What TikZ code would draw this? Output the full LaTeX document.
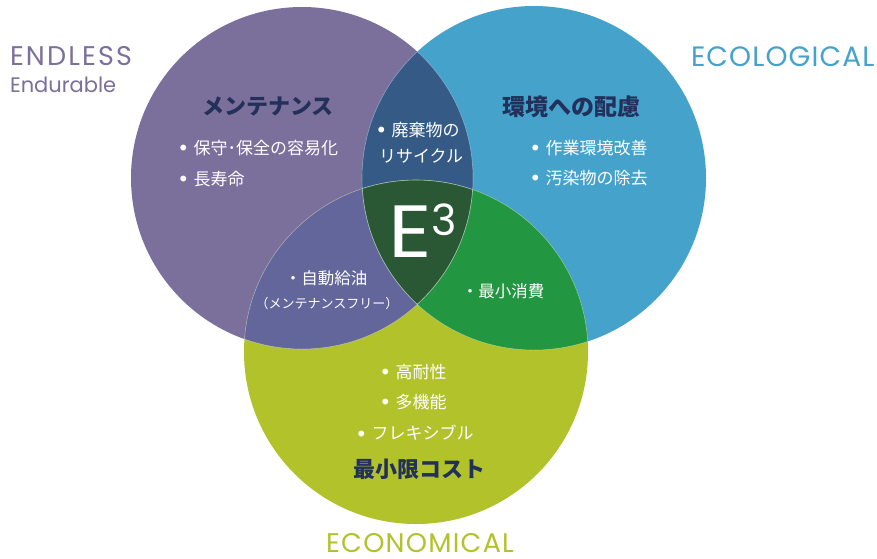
\documentclass[tikz,border=0pt]{standalone}
\usepackage{fontspec}
\setmainfont{Poppins}
\newfontfamily\jp{Noto Sans CJK JP}
\definecolor{cP}{HTML}{7B6F9C}
\definecolor{cB}{HTML}{44A2CB}
\definecolor{cG}{HTML}{B2C22A}
\definecolor{cPB}{HTML}{355A86}
\definecolor{cPG}{HTML}{62669A}
\definecolor{cBG}{HTML}{229641}
\definecolor{cPBG}{HTML}{2A5834}
\definecolor{navy}{HTML}{22305A}
\newcommand\bul{\raisebox{3.6pt}{\fontsize{6.5}{7}\selectfont ●}\hspace{7pt}}
\tikzset{
  lbl/.style={inner sep=0pt, outer sep=0pt},
  head/.style={lbl, text=navy, font=\jp\bfseries\fontsize{22}{25}\selectfont},
  item/.style={lbl, text=white, font=\jp\fontsize{17}{20}\selectfont},
  small/.style={lbl, text=white, font=\jp\fontsize{13}{15}\selectfont},
  seam/.style={draw=white, draw opacity=0.35, line width=0.6pt}
}
\begin{document}
\begin{tikzpicture}[x=1pt,y=-1pt]
\useasboundingbox (0,0) rectangle (877,558);
\coordinate (P) at (302,178);
\coordinate (B) at (534,178);
\coordinate (G) at (416,352);
% base circles
\fill[cP] (P) circle[radius=171pt];
\fill[cB] (B) circle[radius=172pt];
\fill[cG] (G) circle[radius=172pt];
% pairwise overlaps
\begin{scope}
  \clip (P) circle[radius=171pt];
  \fill[cPB] (B) circle[radius=172pt];
\end{scope}
\begin{scope}
  \clip (P) circle[radius=171pt];
  \fill[cPG] (G) circle[radius=172pt];
\end{scope}
\begin{scope}
  \clip (B) circle[radius=172pt];
  \fill[cBG] (G) circle[radius=172pt];
\end{scope}
\begin{scope}
  \clip (P) circle[radius=171pt];
  \clip (B) circle[radius=172pt];
  \fill[cPBG] (G) circle[radius=172pt];
\end{scope}
% seams inside overlaps
\begin{scope}
  \clip (P) circle[radius=171pt];
  \draw[seam] (B) circle[radius=172pt];
  \draw[seam] (G) circle[radius=172pt];
\end{scope}
\begin{scope}
  \clip (B) circle[radius=172pt];
  \draw[seam] (P) circle[radius=171pt];
  \draw[seam] (G) circle[radius=172pt];
\end{scope}
\begin{scope}
  \clip (G) circle[radius=172pt];
  \draw[seam] (P) circle[radius=171pt];
  \draw[seam] (B) circle[radius=172pt];
\end{scope}

% outer labels
\node[lbl, text=cP, anchor=west, font=\fontsize{27}{30}\selectfont\addfontfeature{LetterSpace=8}] (endless) at (10,56.5) {ENDLESS};
\node[lbl, text=cP, anchor=west, font=\fontsize{21}{24}\selectfont] (endurable) at (10,84.5) {Endurable};
\node[lbl, text=cB, anchor=west, font=\fontsize{28}{30}\selectfont\addfontfeature{LetterSpace=4}] (ecological) at (691,57) {ECOLOGICAL};
\node[lbl, text=cG, anchor=north, font=\fontsize{27}{30}\selectfont\addfontfeature{LetterSpace=4.5}] (economical) at (420,533) {ECONOMICAL};

% E3
\node[lbl, text=white, anchor=south west, font=\fontsize{74}{80}\selectfont] (e) at (388,257) {\scalebox{1.15}[1]{E}};
\node[lbl, text=white, anchor=north west, font=\fontsize{43}{46}\selectfont] (three) at (431,204) {3};

% purple
\node[head] (h1) at (268,106) {メンテナンス};
\node[item, anchor=west] (p1) at (180,148) {\bul 保守･保全の容易化};
\node[item, anchor=west] (p2) at (180,179) {\bul 長寿命};
% blue
\node[head, font=\jp\bfseries\fontsize{23}{26}\selectfont] (h2) at (571,107) {環境への配慮};
\node[item, anchor=west] (b1) at (532,148) {\bul 作業環境改善};
\node[item, anchor=west] (b2) at (532,178) {\bul 汚染物の除去};
% purple-blue
\node[item, anchor=west] (pb1) at (378,130) {\bul 廃棄物の};
\node[item, anchor=west] (pb2) at (379,156) {リサイクル};
% purple-green
\node[item, font=\jp\fontsize{16.5}{20}\selectfont] (pg1) at (326,278) {・自動給油};
\node[small] (pg2) at (327,304) {（メンテナンスフリー）};
% blue-green
\node[item, font=\jp\fontsize{16.5}{20}\selectfont] (bg1) at (503,291) {・最小消費};
% green
\node[item, anchor=west] (g1) at (382,372) {\bul 高耐性};
\node[item, anchor=west] (g2) at (382,402) {\bul 多機能};
\node[item, anchor=west] (g3) at (358,433) {\bul フレキシブル};
\node[head] (h3) at (419,469) {最小限コスト};
\end{tikzpicture}
\end{document}
